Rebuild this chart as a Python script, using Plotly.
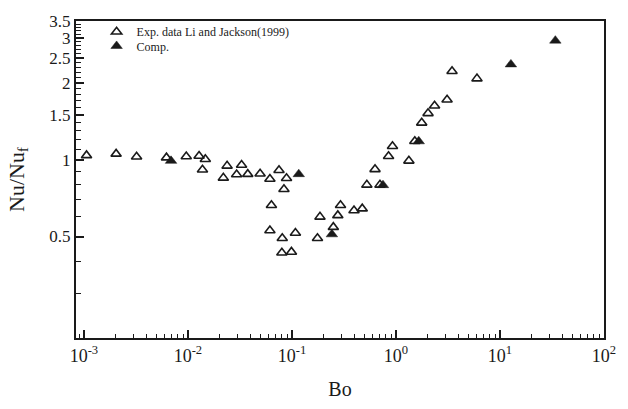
import plotly.graph_objects as go

# Experimental data, Li and Jackson (1999)
bo_exp = [1.06e-3, 2.04e-3, 3.21e-3, 6.22e-3, 9.64e-3, 0.0128, 0.0147, 0.0138,
          0.0219, 0.0238, 0.0294, 0.0328, 0.0376, 0.0494, 0.0614, 0.0635, 0.0614,
          0.0751, 0.0887, 0.0838, 0.0807, 0.108, 0.0800, 0.0989, 0.186, 0.176,
          0.293, 0.276, 0.250, 0.395, 0.474, 0.525, 0.629, 0.702, 0.849, 0.926,
          1.331, 1.518, 1.768, 2.034, 2.350, 3.10, 3.46, 6.01]
nu_exp = [1.04, 1.054, 1.027, 1.019, 1.030, 1.034, 1.004, 0.914,
          0.849, 0.946, 0.875, 0.954, 0.878, 0.881, 0.840, 0.663, 0.528,
          0.909, 0.846, 0.766, 0.492, 0.516, 0.432, 0.435, 0.597, 0.492,
          0.663, 0.605, 0.544, 0.632, 0.643, 0.797, 0.917, 0.797, 1.032, 1.129,
          0.990, 1.181, 1.395, 1.520, 1.628, 1.719, 2.222, 2.080]

# Computed results
bo_comp = [6.88e-3, 0.1163, 0.2422, 0.750, 1.656, 12.74, 34.06]
nu_comp = [0.990, 0.878, 0.510, 0.795, 1.181, 2.365, 2.931]

# Axis ticks
x_major = [1e-3, 1e-2, 1e-1, 1e0, 1e1, 1e2]
x_major_text = ["10<sup>-3</sup>", "10<sup>-2</sup>", "10<sup>-1</sup>",
                "10<sup>0</sup>", "10<sup>1</sup>", "10<sup>2</sup>"]
y_major = [0.5, 1, 1.5, 2, 2.5, 3, 3.5]
y_major_text = ["0.5", "1", "1.5", "2", "2.5", "3", "3.5"]

x_minor = [m * 10.0 ** e for e in range(-4, 2) for m in range(2, 10)]
y_minor = [round(0.1 * k, 1) for k in range(2, 36)]

FONT = "Liberation Serif"
INK = "#1a1a1a"

fig = go.Figure()
fig.add_trace(go.Scatter(
    x=bo_exp, y=nu_exp, mode="markers",
    name="Exp. data Li and Jackson(1999)",
    legend="legend",
    marker=dict(symbol="triangle-up-open", size=9, color=INK,
                line=dict(width=1.6, color=INK)),
))
fig.add_trace(go.Scatter(
    x=bo_comp, y=nu_comp, mode="markers",
    name="Comp.",
    legend="legend2",
    marker=dict(symbol="triangle-up", size=10, color=INK,
                line=dict(width=0.5, color=INK)),
))

legend_style = dict(xanchor="left", yanchor="top",
                    bgcolor="rgba(0,0,0,0)", borderwidth=0,
                    font=dict(family=FONT, size=12, color=INK),
                    itemsizing="trace")

fig.update_layout(
    width=628, height=409,
    margin=dict(l=76, r=17, t=16, b=59),
    paper_bgcolor="white", plot_bgcolor="white",
    font=dict(family=FONT, color=INK, size=18),
    showlegend=True,
    legend=dict(x=0.039, y=1.012, **legend_style),
    legend2=dict(x=0.039, y=0.967, **legend_style),
    xaxis=dict(
        type="log", range=[-3.076, 2.0],
        tickmode="array", tickvals=x_major, ticktext=x_major_text,
        ticks="inside", ticklen=8, tickwidth=1.5, tickcolor=INK,
        minor=dict(tickmode="array", tickvals=x_minor, ticks="inside",
                   ticklen=4, tickwidth=1.2, tickcolor=INK, showgrid=False),
        showline=True, linewidth=2, linecolor=INK, mirror=True,
        showgrid=False, zeroline=False,
        tickfont=dict(family=FONT, size=18, color=INK),
        title=dict(text="Bo", font=dict(family=FONT, size=20, color=INK), standoff=17),
    ),
    yaxis=dict(
        type="log", range=[-0.699, 0.544],
        tickmode="array", tickvals=y_major, ticktext=y_major_text,
        ticks="inside", ticklen=8, tickwidth=1.5, tickcolor=INK,
        minor=dict(tickmode="array", tickvals=y_minor, ticks="inside",
                   ticklen=5, tickwidth=1.2, tickcolor=INK, showgrid=False),
        showline=True, linewidth=2, linecolor=INK, mirror=True,
        showgrid=False, zeroline=False,
        tickfont=dict(family=FONT, size=17, color=INK),
        title=dict(text="Nu/Nu<sub>f</sub>", font=dict(family=FONT, size=22, color=INK),
                   standoff=19),
    ),
)

fig.write_html("out.html")
